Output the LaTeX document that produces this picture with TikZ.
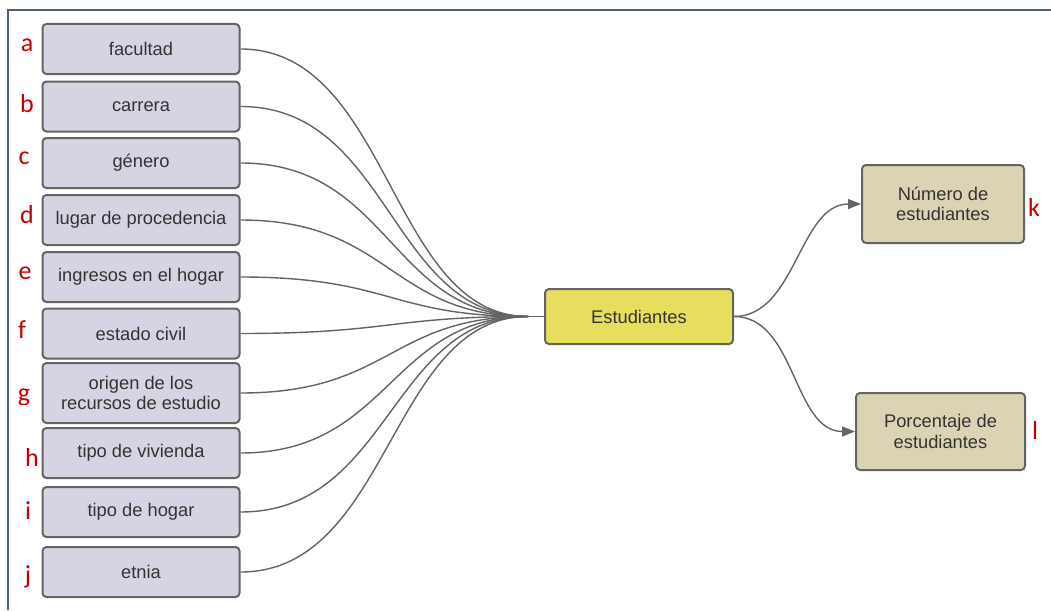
\documentclass[tikz,border=0pt]{standalone}
\usepackage{fontspec}
\setmainfont{Liberation Sans}
\newfontfamily\letterfont{Carlito}
\usetikzlibrary{arrows.meta}
\definecolor{fieldfill}{RGB}{214,212,226}
\definecolor{hubfill}{RGB}{232,222,94}
\definecolor{resfill}{RGB}{219,211,180}
\definecolor{edgegray}{RGB}{100,100,100}
\definecolor{ink}{RGB}{51,51,51}
\definecolor{tagred}{RGB}{196,0,0}
\definecolor{framecol}{RGB}{80,95,122}
\begin{document}
\begin{tikzpicture}[x=1pt,y=-1pt,
  box/.style={draw=edgegray, line width=2pt, rounded corners=4pt, inner sep=0pt,
    align=center, text=ink, font=\fontsize{18.3}{20.5}\selectfont},
  field/.style={box, fill=fieldfill, minimum width=197pt, minimum height=50pt},
  result/.style={box, fill=resfill},
  tag/.style={text=tagred, font=\letterfont\fontsize{26}{28}\selectfont, inner sep=0pt},
  link/.style={draw=edgegray, line width=1.4pt},
  arrowlink/.style={link, -{Triangle[length=13pt,width=10pt]}}
]
\useasboundingbox (0,0) rectangle (1051,610);
\fill[white] (0,0) rectangle (1051,610);

% outer frame (top and left edges)
\draw[framecol, line width=2pt] (1051,10) -- (8,10) -- (8,610);

% attribute boxes
\node[field] (fa) at (141,49)  {facultad};
\node[field] (fb) at (141,106.5) {carrera};
\node[field] (fc) at (141,163) {género};
\node[field] (fd) at (141,220) {lugar de procedencia};
\node[field] (fe) at (141,277) {ingresos en el hogar};
\node[field] (ff) at (141,333.5) {estado civil};
\node[field, minimum height=60pt] (fg) at (141,393) {origen de los\\recursos de estudio};
\node[field] (fh) at (141,453) {tipo de vivienda};
\node[field] (fi) at (141,512) {tipo de hogar};
\node[field] (fj) at (141,572) {etnia};

% central entity
\node[box, fill=hubfill, minimum width=188pt, minimum height=55pt] (est) at (639,316.5) {Estudiantes};

% measures
\node[result, minimum width=162pt, minimum height=78pt] (num) at (943,204) {Número de\\estudiantes};
\node[result, minimum width=169pt, minimum height=77pt] (pct) at (940.5,431.5) {Porcentaje de\\estudiantes};

% letters
\node[tag] (ta) at (27,45) {a};
\node[tag] (tb) at (27,104) {b};
\node[tag] (tc) at (24,158) {c};
\node[tag] (td) at (27,215) {d};
\node[tag] (te) at (25,273) {e};
\node[tag] (tf) at (22,330) {f};
\begin{scope}
  % the descender of this letter is cut off
  \clip (10,370) rectangle (40,404);
  \node[tag, anchor=base] (tg) at (24,401) {g};
\end{scope}
\node[tag] (th) at (32,457) {h};
\node[tag] (ti) at (28,511) {i};
\node[tag] (tj) at (28,577) {j};
\node[tag] (tk) at (1034,207) {k};
\node[tag] (tl) at (1035,430) {l};

% converging connectors
\coordinate (hub) at (528,316.5);
\foreach \f in {fa,fb,fc,fd,fe,ff,fg,fh,fi,fj}{
  \draw[link] (\f.east) .. controls +(150,0) and ([xshift=-138pt]hub) .. (hub);
}
\draw[link] (hub) -- (est.west);

% outgoing arrows
\draw[arrowlink] (est.east) .. controls +(62,0) and +(-62,0) .. (num.west);
\draw[arrowlink] (est.east) .. controls +(62,0) and +(-62,0) .. (pct.west);
\end{tikzpicture}
\end{document}
